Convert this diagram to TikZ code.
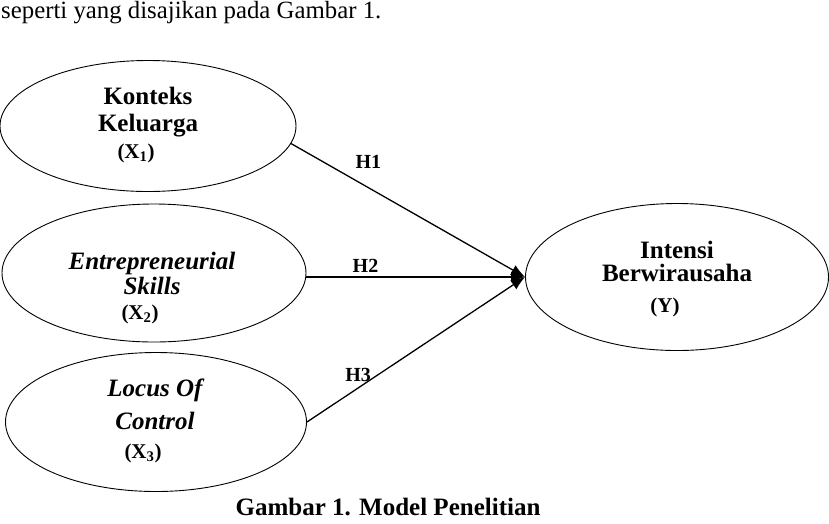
\documentclass[tikz,border=0pt]{standalone}
\usepackage{fontspec}
\setmainfont{Liberation Serif}
\usetikzlibrary{shapes.geometric,arrows.meta}
\begin{document}
\begin{tikzpicture}
    [
    x=1pt,y=-1pt,
    var/.style={ellipse,draw,line width=0.9pt,inner sep=0pt},
    vartext/.style={align=center,font=\fontsize{25}{27}\selectfont\bfseries},
    hlabel/.style={font=\fontsize{20}{24}\selectfont\bfseries,inner sep=0pt},
    path/.style={-{Latex[length=14pt,width=11pt]},line width=1.3pt}
    ]
    \useasboundingbox (0,0) rectangle (829,523);
    \newcommand{\varsym}[1]{{\fontsize{21}{24}\selectfont\hspace*{-24pt}(#1)}}
    \node (intro) at (1,18) [anchor=base west,inner sep=0pt,font=\fontsize{24.8}{28}\selectfont] {seperti yang disajikan pada Gambar 1.};
    \node (x1) at (148,126) [var,minimum width=296pt,minimum height=131pt] {};
    \node (x2) at (154,273) [var,minimum width=304pt,minimum height=138pt] {};
    \node (x3) at (156,422) [var,minimum width=301pt,minimum height=139pt] {};
    \node (y) at (677,277) [var,minimum width=303pt,minimum height=147pt] {};
    \node (x1t) at (148,125) [vartext] {Konteks\\Keluarga\\\varsym{X\textsubscript{1}}};
    \node (x2t) at (152,288) [vartext,font=\fontsize{25}{25}\selectfont\bfseries\itshape] {Entrepreneurial\\Skills\\\upshape\varsym{X\textsubscript{2}}};
    \node (x3t) at (155,421) [vartext,font=\fontsize{25}{33}\selectfont\bfseries\itshape] {Locus Of\\Control\\[-4pt]\upshape\varsym{X\textsubscript{3}}};
    \node (yt) at (677,279) [vartext,font=\fontsize{25}{23}\selectfont\bfseries] {Intensi\\Berwirausaha\\[8pt]\varsym{Y}};
    \draw [path] (x1.-7) to node [hlabel,pos=0.33,yshift=26pt] {H1} (y.west);
    \draw [path] (x2.east |- y.west) to node [hlabel,pos=0.27,yshift=11pt] {H2} (y.west);
    \draw [path] (x3.east) to node [hlabel,pos=0.235,yshift=13pt] {H3} (y.west);
    \node (caption) at (388,515) [anchor=base,inner sep=0pt,font=\fontsize{25}{30}\selectfont\bfseries] {Gambar 1. Model Penelitian};
  \end{tikzpicture}
\end{document}
